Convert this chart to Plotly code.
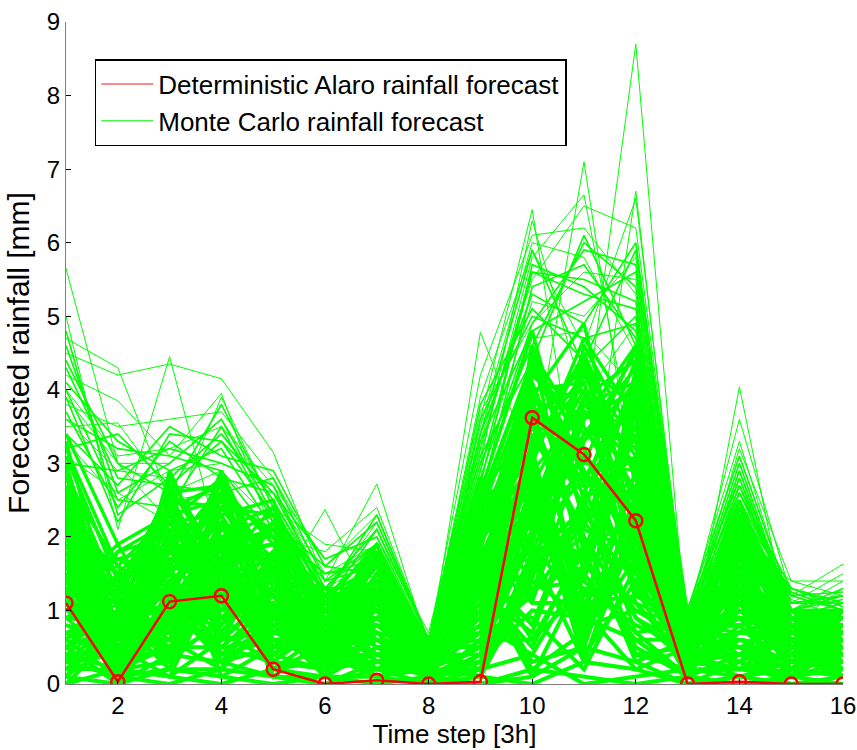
import plotly.graph_objects as go

time_steps = list(range(1, 17))

deterministic = [1.1, 0.03, 1.12, 1.2, 0.2, 0.0, 0.05, 0.0, 0.03, 3.62, 3.12, 2.22, 0.0, 0.03, 0.0, 0.0]

# Upper (individually visible) Monte Carlo members
mc_upper = [
    [5.65, 3.0, 2.2, 2.8, 1.5, 0.9, 1.2, 0.3, 2.0, 4.0, 3.5, 8.7, 0.5, 1.5, 0.8, 0.6],
    [5.0, 2.1, 4.45, 1.8, 1.0, 0.5, 0.9, 0.4, 4.78, 3.0, 7.1, 2.5, 0.3, 4.04, 0.6, 0.7],
    [4.7, 4.3, 2.5, 2.6, 1.2, 2.37, 1.0, 0.2, 3.6, 6.45, 2.0, 6.7, 0.6, 2.0, 1.4, 1.2],
    [4.5, 4.2, 4.35, 4.15, 3.15, 1.4, 2.72, 0.5, 3.1, 5.8, 6.65, 3.0, 0.9, 3.6, 1.2, 1.63],
    [4.2, 3.85, 3.1, 3.95, 2.0, 1.8, 2.4, 0.6, 4.2, 6.1, 6.2, 5.3, 1.0, 3.3, 1.0, 1.4],
    [3.8, 3.5, 3.6, 3.7, 2.8, 1.6, 2.3, 0.55, 3.9, 5.9, 4.6, 6.6, 0.8, 3.2, 1.4, 1.4],
    [4.0, 3.1, 3.2, 3.5, 2.7, 1.7, 2.0, 0.7, 3.5, 6.0, 5.8, 4.5, 0.7, 2.8, 1.1, 1.5],
    [3.6, 2.9, 2.8, 3.4, 2.6, 1.5, 1.9, 0.45, 3.3, 5.5, 6.5, 6.2, 0.9, 2.9, 0.9, 1.1],
    [3.9, 3.0, 3.0, 3.6, 2.5, 1.2, 2.2, 0.6, 2.9, 5.2, 5.0, 5.8, 1.05, 2.6, 1.3, 1.0],
    [3.3, 2.5, 2.9, 3.0, 2.7, 1.3, 1.7, 0.5, 3.7, 4.9, 5.6, 5.5, 0.85, 2.5, 1.0, 1.2],
    [3.5, 3.55, 2.6, 2.9, 2.2, 1.1, 1.5, 0.4, 2.6, 4.7, 4.8, 4.0, 0.6, 2.2, 1.15, 0.9],
    [3.1, 2.6, 2.2, 3.9, 2.4, 1.9, 1.8, 0.55, 3.0, 6.3, 3.9, 4.9, 0.9, 2.4, 0.8, 1.3],
]

# Middle Monte Carlo members
mc_mid = [
    [4.3, 2.8, 2.7, 3.3, 2.3, 1.4, 1.9, 0.5, 3.2, 5.6, 5.3, 5.1, 0.8, 2.7, 1.1, 1.1],
    [3.7, 2.4, 3.3, 2.8, 2.6, 1.3, 2.1, 0.6, 2.8, 4.9, 5.9, 5.7, 0.9, 3.0, 1.0, 1.2],
    [4.1, 3.3, 2.9, 3.2, 2.1, 1.5, 1.6, 0.4, 3.4, 5.3, 4.9, 6.0, 0.7, 2.3, 1.2, 1.0],
    [3.4, 2.7, 3.5, 3.1, 2.9, 1.6, 2.2, 0.6, 2.7, 5.7, 5.4, 4.8, 0.9, 2.6, 1.3, 1.1],
    [4.4, 3.0, 2.6, 3.8, 2.4, 1.2, 1.8, 0.5, 3.0, 4.6, 6.0, 5.4, 0.8, 2.9, 1.0, 1.3],
    [3.9, 2.2, 3.4, 3.3, 2.6, 1.7, 2.0, 0.55, 3.8, 5.1, 4.4, 5.9, 1.0, 3.1, 1.1, 1.2],
    [3.2, 3.4, 2.7, 2.6, 2.8, 1.4, 1.6, 0.4, 2.5, 5.4, 5.7, 4.7, 0.75, 2.4, 1.25, 1.0],
    [4.6, 2.6, 3.0, 3.6, 2.3, 1.1, 2.1, 0.6, 3.3, 4.8, 5.2, 5.6, 0.95, 2.8, 0.9, 1.1],
    [3.6, 3.2, 3.1, 2.9, 2.0, 1.5, 1.7, 0.5, 3.6, 5.0, 4.7, 4.9, 0.85, 2.5, 1.2, 1.25],
    [4.8, 2.3, 2.8, 3.4, 2.5, 1.3, 1.9, 0.45, 2.9, 5.6, 5.5, 5.2, 0.8, 2.7, 1.0, 1.15],
    [3.0, 2.9, 3.2, 3.0, 2.7, 1.2, 2.3, 0.6, 3.1, 4.4, 6.1, 4.6, 0.9, 2.2, 1.3, 1.05],
    [4.0, 2.5, 2.4, 3.5, 2.2, 1.6, 1.5, 0.55, 3.4, 5.9, 4.3, 5.0, 0.7, 2.6, 1.1, 1.2],
]

# Bulk Monte Carlo members
mc_bulk = [
    [2.9, 1.2, 2.4, 2.7, 1.9, 1.0, 1.6, 0.5, 2.3, 4.2, 3.8, 4.1, 0.8, 2.1, 0.9, 0.9],
    [2.5, 0.4, 1.8, 2.2, 1.2, 0.6, 1.2, 0.3, 1.5, 3.5, 4.4, 2.8, 0.5, 1.6, 0.6, 0.8],
    [1.8, 0.9, 2.7, 1.5, 2.1, 1.1, 0.8, 0.6, 2.0, 2.6, 3.0, 4.6, 0.7, 1.2, 1.0, 0.5],
    [3.2, 1.6, 1.2, 2.9, 0.9, 0.4, 1.7, 0.2, 2.6, 4.8, 2.2, 3.5, 0.4, 2.3, 0.4, 1.0],
    [2.2, 0.2, 2.1, 1.9, 1.6, 1.2, 1.1, 0.4, 1.1, 3.9, 4.9, 2.0, 0.9, 0.9, 0.8, 0.3],
    [1.5, 1.4, 0.9, 2.4, 2.3, 0.8, 1.9, 0.5, 2.8, 1.8, 3.4, 4.3, 0.2, 1.9, 0.3, 0.7],
    [2.7, 0.7, 2.5, 1.2, 1.4, 1.3, 0.6, 0.1, 1.8, 4.5, 1.5, 3.9, 0.6, 2.5, 0.7, 1.0],
    [1.2, 0.1, 1.6, 2.6, 0.6, 0.3, 1.4, 0.6, 0.7, 3.2, 4.1, 1.3, 0.8, 1.4, 1.0, 0.6],
    [3.4, 1.9, 2.3, 0.8, 1.8, 0.9, 1.0, 0.3, 2.4, 2.1, 3.7, 3.0, 0.3, 0.6, 0.5, 0.9],
    [0.8, 0.5, 1.4, 2.0, 2.0, 0.5, 1.8, 0.4, 1.3, 4.0, 2.7, 4.4, 0.9, 2.0, 0.9, 0.2],
    [2.0, 1.1, 0.5, 1.7, 1.0, 1.0, 0.9, 0.5, 2.1, 3.6, 4.3, 2.4, 0.5, 1.1, 0.2, 0.8],
    [2.6, 0.3, 2.0, 2.3, 2.5, 0.7, 1.3, 0.2, 0.9, 2.9, 1.0, 3.7, 0.7, 1.7, 1.0, 1.0],
    [1.0, 1.3, 2.6, 0.6, 1.3, 1.2, 0.5, 0.6, 2.5, 4.4, 3.2, 1.6, 0.4, 2.2, 0.6, 0.4],
    [2.3, 0.0, 1.1, 2.8, 0.4, 0.2, 1.5, 0.4, 1.6, 1.4, 4.6, 3.3, 0.8, 0.8, 0.9, 0.7],
    [1.6, 1.7, 1.9, 1.4, 2.2, 0.9, 1.2, 0.1, 2.2, 3.8, 2.4, 4.2, 0.6, 1.5, 0.4, 1.0],
    [3.0, 0.6, 0.7, 2.1, 1.7, 0.6, 0.7, 0.5, 1.0, 2.4, 3.9, 2.6, 0.9, 1.8, 0.8, 0.5],
    [0.5, 0.8, 2.2, 1.1, 0.8, 1.1, 1.6, 0.3, 1.9, 4.1, 1.8, 3.8, 0.3, 1.0, 0.7, 0.9],
    [2.4, 1.5, 1.5, 2.5, 1.5, 0.4, 0.4, 0.6, 0.5, 3.3, 4.2, 2.9, 0.7, 2.4, 1.0, 0.6],
    [1.3, 0.2, 2.8, 1.6, 2.4, 1.0, 1.4, 0.2, 2.7, 2.2, 3.3, 4.5, 0.5, 1.3, 0.3, 0.8],
    [2.8, 1.0, 1.0, 2.2, 0.7, 0.7, 1.7, 0.4, 1.4, 4.3, 2.9, 1.9, 0.8, 0.7, 0.9, 1.0],
    [0.3, 0.4, 1.7, 1.8, 1.9, 1.3, 1.0, 0.5, 2.0, 3.0, 4.7, 3.6, 0.2, 2.0, 0.6, 0.4],
    [1.9, 1.2, 2.4, 0.9, 1.1, 0.3, 1.3, 0.6, 1.2, 3.7, 1.2, 2.7, 0.9, 1.6, 1.0, 0.9],
    [2.1, 0.8, 0.4, 2.6, 2.0, 0.8, 0.8, 0.2, 2.3, 1.6, 3.6, 4.0, 0.6, 0.5, 0.5, 0.7],
    [1.1, 1.8, 2.0, 1.3, 0.5, 1.1, 1.9, 0.4, 0.8, 4.6, 2.5, 3.1, 0.4, 2.3, 0.8, 1.0],
    [2.6, 0.1, 1.3, 2.0, 1.6, 0.5, 0.6, 0.3, 2.6, 2.7, 4.0, 1.1, 0.8, 1.2, 0.2, 0.6],
    [0.7, 1.0, 2.5, 2.4, 1.4, 1.2, 1.1, 0.6, 1.7, 3.4, 2.1, 4.2, 0.7, 1.9, 0.9, 0.3],
    [1.7, 0.6, 0.8, 1.0, 2.2, 0.6, 1.5, 0.1, 0.4, 4.2, 3.5, 2.3, 0.5, 0.9, 0.7, 0.8],
    [3.1, 1.4, 1.8, 2.7, 0.9, 0.9, 0.9, 0.5, 2.1, 2.0, 1.7, 3.4, 0.9, 2.1, 1.0, 1.0],
    [0.9, 0.3, 2.1, 0.7, 1.7, 1.0, 1.7, 0.3, 1.5, 3.1, 4.5, 1.7, 0.3, 1.4, 0.5, 0.5],
    [2.2, 1.1, 1.2, 2.3, 1.2, 0.2, 0.3, 0.6, 2.4, 4.4, 2.8, 3.9, 0.6, 2.2, 0.8, 0.9],
    [1.4, 1.6, 2.3, 1.5, 0.3, 0.8, 1.2, 0.4, 1.1, 2.3, 3.1, 2.5, 0.8, 0.4, 1.0, 0.7],
    [2.9, 0.5, 0.6, 1.9, 2.1, 1.1, 1.4, 0.2, 2.0, 3.9, 0.8, 4.3, 0.4, 1.8, 0.4, 0.2],
    [0.4, 0.9, 1.6, 2.5, 1.0, 0.4, 0.7, 0.5, 0.6, 1.2, 3.8, 3.2, 0.9, 1.1, 0.6, 1.0],
    [1.8, 0.2, 2.6, 1.2, 1.8, 1.2, 1.6, 0.6, 2.2, 3.6, 2.0, 0.9, 0.5, 2.4, 0.9, 0.6],
    [2.5, 1.3, 1.4, 0.5, 0.6, 0.7, 1.0, 0.1, 1.3, 4.0, 4.1, 2.1, 0.7, 0.6, 0.3, 0.8],
    [1.0, 0.7, 0.3, 2.0, 2.3, 0.5, 1.8, 0.4, 2.5, 2.5, 1.4, 3.7, 0.3, 1.7, 1.0, 0.4],
    [2.0, 1.5, 2.2, 2.8, 1.3, 0.9, 0.5, 0.3, 0.3, 4.3, 3.0, 2.9, 0.8, 1.3, 0.7, 0.9],
    [1.5, 0.0, 1.0, 1.6, 1.5, 1.3, 1.3, 0.5, 1.8, 1.9, 4.4, 1.5, 0.6, 2.0, 0.5, 1.0],
    [0.6, 1.1, 2.7, 0.4, 0.8, 0.1, 1.1, 0.6, 1.0, 3.3, 2.6, 4.0, 0.9, 0.8, 1.0, 0.5],
    [2.7, 0.4, 1.9, 2.6, 2.0, 1.0, 0.4, 0.2, 2.3, 2.8, 0.6, 2.2, 0.2, 2.3, 0.8, 0.7],
    [1.2, 1.9, 0.7, 1.1, 1.1, 0.6, 1.7, 0.4, 1.4, 4.5, 3.4, 3.0, 0.7, 1.5, 0.2, 1.0],
    [2.3, 0.8, 1.5, 2.2, 0.2, 0.3, 0.8, 0.5, 0.2, 1.5, 3.9, 4.4, 0.5, 0.3, 0.6, 0.3],
    [0.2, 0.2, 2.4, 1.7, 1.9, 1.1, 1.4, 0.1, 2.6, 3.5, 1.9, 1.0, 0.8, 2.1, 0.9, 0.8],
    [1.6, 1.2, 0.2, 2.9, 1.4, 0.8, 0.2, 0.6, 1.6, 2.4, 4.2, 3.3, 0.4, 1.0, 0.4, 0.9],
    [3.0, 0.6, 2.1, 0.6, 0.7, 0.4, 1.5, 0.3, 0.9, 4.1, 2.3, 2.6, 0.9, 1.9, 1.0, 0.6],
    [0.9, 1.4, 1.1, 2.1, 2.4, 1.2, 1.0, 0.5, 2.4, 1.1, 3.3, 4.1, 0.6, 0.7, 0.7, 1.0],
    [2.1, 0.3, 2.9, 1.3, 1.0, 0.6, 1.9, 0.2, 1.2, 3.8, 1.1, 1.8, 0.3, 2.2, 0.5, 0.4],
    [1.3, 1.7, 1.3, 2.4, 1.7, 0.2, 0.6, 0.6, 2.1, 2.9, 3.7, 3.5, 0.8, 1.2, 0.9, 0.8],
    [2.4, 0.5, 0.9, 0.9, 0.4, 1.0, 1.2, 0.4, 0.7, 4.6, 2.2, 1.4, 0.5, 1.6, 0.1, 1.0],
    [0.5, 1.0, 2.3, 2.5, 2.1, 0.7, 1.6, 0.3, 2.7, 1.7, 4.3, 3.8, 0.9, 0.5, 0.8, 0.5],
    [1.9, 0.1, 1.7, 1.4, 0.9, 1.3, 0.7, 0.5, 1.9, 3.2, 0.5, 2.5, 0.2, 2.4, 1.0, 0.9],
    [2.8, 1.6, 0.4, 2.0, 1.6, 0.5, 1.3, 0.1, 0.5, 4.2, 3.6, 4.6, 0.7, 1.4, 0.6, 0.2],
    [0.1, 0.6, 2.0, 1.0, 1.2, 0.9, 0.9, 0.6, 2.3, 2.6, 2.7, 0.7, 0.8, 1.8, 0.9, 1.0],
    [1.7, 1.3, 2.6, 2.7, 0.1, 0.1, 1.8, 0.2, 1.5, 3.7, 4.0, 3.1, 0.4, 0.2, 0.3, 0.6],
    [2.6, 0.2, 0.1, 1.5, 2.2, 1.1, 0.5, 0.4, 2.8, 1.3, 1.6, 3.9, 0.6, 2.0, 1.0, 0.8],
    [1.1, 0.9, 1.6, 0.3, 1.3, 0.6, 1.4, 0.5, 0.1, 4.4, 3.2, 1.2, 0.9, 1.1, 0.4, 0.4],
    [0.3, 1.8, 2.2, 2.3, 0.5, 1.2, 0.3, 0.6, 1.7, 2.0, 4.5, 2.8, 0.3, 2.3, 0.7, 1.0],
    [2.2, 0.4, 1.4, 1.8, 1.9, 0.3, 1.7, 0.3, 2.2, 3.1, 0.9, 4.2, 0.7, 0.8, 0.9, 0.7],
    [1.4, 1.1, 0.6, 2.6, 0.8, 0.8, 1.1, 0.1, 1.0, 3.9, 2.9, 2.0, 0.5, 1.7, 0.6, 0.9],
    [3.3, 0.7, 2.5, 1.1, 1.5, 0.5, 0.6, 0.5, 2.5, 2.2, 3.4, 3.3, 0.8, 1.3, 0.8, 0.3],
]

# Low-valued Monte Carlo members
mc_low = [
    [0.6, 0.1, 0.9, 0.5, 0.3, 0.2, 0.4, 0.1, 0.3, 1.0, 0.9, 0.6, 0.1, 0.4, 0.2, 0.1],
    [1.4, 0.3, 0.5, 1.2, 0.9, 0.4, 0.2, 0.3, 0.8, 0.4, 1.6, 1.1, 0.3, 0.2, 0.4, 0.3],
    [0.2, 0.6, 1.3, 0.3, 0.5, 0.7, 0.9, 0.2, 0.2, 1.8, 0.3, 2.1, 0.5, 0.9, 0.1, 0.5],
    [2.0, 0.2, 0.3, 0.9, 1.1, 0.1, 0.5, 0.4, 1.2, 0.7, 2.5, 0.4, 0.2, 0.6, 0.5, 0.2],
    [0.9, 0.8, 1.1, 1.9, 0.2, 0.5, 1.0, 0.0, 0.6, 2.6, 1.2, 1.9, 0.4, 0.1, 0.3, 0.6],
    [1.7, 0.4, 0.6, 0.2, 1.5, 0.9, 0.3, 0.5, 1.4, 0.2, 0.7, 2.9, 0.1, 1.2, 0.6, 0.4],
    [0.1, 1.0, 1.8, 1.1, 0.6, 0.3, 1.2, 0.2, 0.1, 1.5, 2.0, 0.3, 0.6, 0.5, 0.2, 0.7],
    [1.1, 0.1, 0.2, 1.6, 0.1, 0.6, 0.1, 0.3, 0.9, 3.0, 0.4, 1.4, 0.3, 1.5, 0.8, 0.1],
    [2.4, 0.7, 1.5, 0.4, 1.0, 0.2, 0.7, 0.1, 1.7, 0.6, 1.3, 0.8, 0.5, 0.3, 0.1, 0.5],
    [0.4, 0.2, 0.8, 2.2, 0.7, 0.8, 0.6, 0.4, 0.4, 2.0, 2.8, 2.4, 0.2, 1.0, 0.5, 0.3],
    [1.3, 1.1, 0.4, 0.8, 1.7, 0.4, 1.1, 0.2, 1.1, 0.9, 0.2, 1.6, 0.7, 0.2, 0.7, 0.8],
    [0.7, 0.3, 1.6, 1.4, 0.4, 1.0, 0.3, 0.5, 0.5, 2.3, 1.7, 0.5, 0.1, 1.3, 0.3, 0.2],
    [1.9, 0.5, 0.1, 0.6, 1.2, 0.3, 0.8, 0.3, 1.9, 1.2, 2.2, 2.7, 0.4, 0.7, 0.9, 0.6],
    [0.3, 0.9, 1.0, 1.7, 0.8, 0.1, 1.3, 0.1, 0.2, 2.8, 0.8, 1.0, 0.6, 1.1, 0.2, 0.4],
    [1.5, 0.2, 2.0, 0.1, 0.5, 0.7, 0.2, 0.4, 1.3, 0.5, 1.9, 2.2, 0.3, 0.4, 0.6, 0.1],
    [0.8, 0.6, 0.7, 1.3, 1.4, 0.5, 0.9, 0.2, 0.7, 1.9, 1.0, 0.2, 0.5, 1.4, 0.4, 0.7],
    [2.2, 0.0, 1.2, 0.7, 0.3, 0.9, 0.4, 0.5, 1.6, 0.8, 2.6, 1.5, 0.2, 0.8, 0.1, 0.3],
    [0.5, 1.2, 0.3, 1.5, 1.0, 0.2, 1.1, 0.0, 0.4, 2.4, 0.6, 2.5, 0.7, 0.3, 0.8, 0.5],
    [1.2, 0.4, 1.4, 0.4, 0.6, 0.6, 0.6, 0.3, 1.0, 1.3, 1.4, 0.7, 0.1, 1.2, 0.2, 0.8],
    [0.0, 0.7, 0.6, 1.0, 1.3, 0.4, 0.1, 0.2, 0.5, 2.1, 2.1, 1.8, 0.4, 0.6, 0.5, 0.2],
    [1.6, 0.3, 1.7, 1.8, 0.2, 0.7, 1.0, 0.4, 1.5, 0.3, 0.5, 2.6, 0.6, 0.9, 0.3, 0.6],
    [0.9, 0.9, 0.2, 0.2, 0.9, 0.1, 0.5, 0.1, 0.3, 1.7, 2.4, 0.9, 0.3, 0.2, 0.7, 0.4],
    [2.1, 0.1, 1.0, 1.3, 0.5, 0.5, 0.8, 0.5, 1.8, 1.1, 1.1, 1.2, 0.8, 1.6, 0.4, 0.1],
    [0.4, 0.5, 1.4, 0.9, 1.6, 0.3, 0.3, 0.3, 0.8, 2.7, 0.3, 2.3, 0.2, 0.7, 0.6, 0.7],
    [1.0, 1.3, 0.8, 2.0, 0.4, 0.8, 1.2, 0.0, 0.6, 0.6, 1.8, 0.4, 0.5, 0.4, 0.1, 0.5],
    [1.8, 0.2, 0.5, 0.5, 1.1, 0.2, 0.6, 0.4, 1.2, 2.2, 2.9, 1.3, 0.1, 1.1, 0.8, 0.3],
    [0.2, 0.8, 1.9, 1.2, 0.7, 0.6, 0.2, 0.2, 0.1, 1.4, 0.9, 2.0, 0.4, 0.5, 0.3, 0.8],
    [1.3, 0.0, 0.9, 0.6, 1.8, 0.4, 0.9, 0.3, 1.4, 0.1, 1.5, 0.6, 0.6, 1.3, 0.5, 0.2],
    [0.6, 1.5, 0.4, 1.7, 0.3, 0.9, 0.4, 0.5, 0.9, 2.5, 0.7, 1.7, 0.2, 0.1, 0.2, 0.6],
    [2.3, 0.4, 1.1, 0.3, 0.8, 0.3, 1.3, 0.1, 0.2, 1.6, 2.3, 2.8, 0.5, 0.9, 0.9, 0.4],
    [0.1, 0.0, 0.2, 0.1, 0.0, 0.1, 0.0, 0.1, 0.0, 0.2, 0.1, 0.0, 0.1, 0.0, 0.1, 0.0],
    [0.3, 0.1, 0.0, 0.2, 0.1, 0.0, 0.2, 0.0, 0.1, 0.0, 0.3, 0.2, 0.0, 0.1, 0.0, 0.1],
    [0.0, 0.2, 0.1, 0.0, 0.2, 0.1, 0.1, 0.0, 0.2, 0.4, 0.0, 0.1, 0.2, 0.2, 0.1, 0.2],
    [0.5, 0.0, 0.4, 0.3, 0.1, 0.0, 0.3, 0.1, 0.0, 0.1, 0.5, 0.3, 0.0, 0.3, 0.0, 0.0],
]

x_ticks = [2, 4, 6, 8, 10, 12, 14, 16]
y_ticks = [0, 1, 2, 3, 4, 5, 6, 7, 8, 9]

GREEN = "#00ff00"
RED = "#ff0000"
FONT = "Liberation Sans, Arial, sans-serif"


def joined(members):
    xs, ys = [], []
    for m in members:
        xs += time_steps + [None]
        ys += m + [None]
    return xs, ys


fig = go.Figure()

for members, w in ((mc_low, 4.0), (mc_bulk, 3.4), (mc_mid, 1.6), (mc_upper, 1.0)):
    mx, my = joined(members)
    fig.add_trace(go.Scatter(x=mx, y=my, mode="lines", line=dict(color=GREEN, width=w),
                             name="Monte Carlo rainfall forecast", showlegend=False,
                             hoverinfo="skip"))

fig.add_trace(go.Scatter(x=time_steps, y=deterministic, mode="lines+markers",
                         line=dict(color=RED, width=2.5),
                         marker=dict(symbol="circle-open", size=13, color=RED,
                                     line=dict(width=2.4, color=RED)),
                         name="Deterministic Alaro rainfall forecast", showlegend=False))
# legend entries (line samples)
fig.add_trace(go.Scatter(x=[None], y=[None], mode="lines",
                         line=dict(color="#ff6060", width=1.5),
                         name="Deterministic Alaro rainfall forecast"))
fig.add_trace(go.Scatter(x=[None], y=[None], mode="lines",
                         line=dict(color="#50f050", width=1.5),
                         name="Monte Carlo rainfall forecast"))

fig.update_layout(
    width=857, height=750,
    margin=dict(l=66, r=14, t=22, b=66),
    paper_bgcolor="white", plot_bgcolor="white",
    font=dict(family=FONT, size=24, color="black"),
    showlegend=True,
    legend=dict(x=0.037, y=0.944, xanchor="left", yanchor="top",
                bgcolor="white", bordercolor="black", borderwidth=1.5,
                font=dict(family=FONT, size=26, color="black"),
                itemwidth=52),
    xaxis=dict(range=[1, 16], tickvals=x_ticks, automargin=False,
               ticks="inside", ticklen=5, tickcolor="black",
               showline=True, linecolor="#808080", linewidth=1,
               showgrid=False, zeroline=False,
               title=dict(text="Time step [3h]", standoff=4,
                          font=dict(family=FONT, size=26))),
    yaxis=dict(range=[0, 9], tickvals=y_ticks, automargin=False,
               ticks="inside", ticklen=5, tickcolor="black",
               showline=True, linecolor="#808080", linewidth=1,
               showgrid=False, zeroline=False,
               title=dict(text="Forecasted rainfall [mm]", standoff=8,
                          font=dict(family=FONT, size=30))),
)

fig.write_html("out.html")
